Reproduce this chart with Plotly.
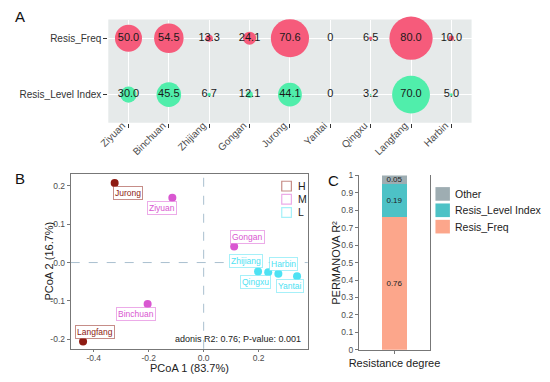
import plotly.graph_objects as go

# ---------------- data ----------------
sites = ["Ziyuan", "Binchuan", "Zhijiang", "Gongan", "Jurong", "Yantai", "Qingxu", "Langfang", "Harbin"]
resis_freq = [50.0, 54.5, 13.3, 24.1, 70.6, 0, 6.5, 80.0, 10.0]
resis_level = [30.0, 45.5, 6.7, 12.1, 44.1, 0, 3.2, 70.0, 5.0]
row_labels = ["Resis_Level Index", "Resis_Freq"]

pcoa_sites = ["Jurong", "Langfang", "Ziyuan", "Binchuan", "Gongan", "Zhijiang", "Qingxu", "Harbin", "Yantai"]
pcoa1 = [-0.324, -0.439, -0.114, -0.204, 0.111, 0.198, 0.235, 0.272, 0.340]
pcoa2 = [0.208, -0.206, 0.169, -0.108, 0.042, -0.023, -0.025, -0.029, -0.036]
pcoa_group = ["H", "H", "M", "M", "M", "L", "L", "L", "L"]
group_levels = ["H", "M", "L"]
pcoa1_ticks = [-0.4, -0.2, 0.0, 0.2]
pcoa1_ticktext = ["-0.4", "-0.2", "0.0", "0.2"]
pcoa2_ticks = [-0.2, -0.1, 0.0, 0.1, 0.2]
pcoa2_ticktext = ["-0.2", "-0.1", "0.0", "0.1", "0.2"]

perm_factors = ["Resis_Freq", "Resis_Level Index", "Other"]
perm_r2 = [0.76, 0.19, 0.05]
perm_cat = ["Resistance degree"]

# ---------------- styles ----------------
FONT = "Liberation Sans, Arial, sans-serif"
red = "#F65B7B"
green = "#50EEAB"
panelA_bg = "#E6EAEA"
group_colors = {"H": "#8E1B12", "M": "#D957D1", "L": "#4EE2F3"}
group_faded = {"H": "rgba(142,27,18,0.5)", "M": "rgba(217,87,209,0.5)", "L": "rgba(78,226,243,0.5)"}
perm_colors = {"Resis_Freq": "#FCA68B", "Resis_Level Index": "#4DC2C6", "Other": "#9EADB2"}
# label offsets (px) for panel B labels
label_off = {"Jurong": (13, -10), "Ziyuan": (-10, -10), "Gongan": (13, 9), "Binchuan": (-12, -10),
             "Langfang": (12, 9), "Zhijiang": (-12, 10), "Harbin": (5, 10), "Qingxu": (-13, -10),
             "Yantai": (-7, -10)}

W, H = 550, 382
def px(x): return x / W
def py(y): return 1 - y / H

fig = go.Figure()

# ---------------- Panel A ----------------
def fmt(v):
    return "0" if v == 0 else f"{v:.1f}"

fig.add_shape(type="rect", xref="x domain", yref="y domain", x0=0, x1=1, y0=0, y1=1,
              fillcolor=panelA_bg, line=dict(width=0), layer="below")

sizeref = 1.85
for vals, col, row in [(resis_freq, red, "Resis_Freq"), (resis_level, green, "Resis_Level Index")]:
    fig.add_trace(go.Scatter(
        x=sites, y=[row] * len(sites), mode="markers+text",
        marker=dict(size=vals, sizemode="diameter", sizeref=sizeref, color=col, opacity=1,
                    line=dict(width=0)),
        text=[fmt(v) for v in vals], textposition="middle center",
        textfont=dict(family=FONT, size=11, color="#1a1a1a"),
        xaxis="x", yaxis="y", showlegend=False, cliponaxis=False, hoverinfo="skip"))

# ---------------- Panel B ----------------
for g in group_levels:
    idx = [i for i, gg in enumerate(pcoa_group) if gg == g]
    fig.add_trace(go.Scatter(
        x=[pcoa1[i] for i in idx], y=[pcoa2[i] for i in idx], mode="markers",
        marker=dict(size=8, color=group_colors[g], opacity=1),
        xaxis="x2", yaxis="y2", showlegend=False, cliponaxis=False, hoverinfo="skip"))

for s, x, y, g in zip(pcoa_sites, pcoa1, pcoa2, pcoa_group):
    dx, dy = label_off[s]
    fig.add_annotation(x=x, y=y, xref="x2", yref="y2", text=s, showarrow=False,
                       xshift=dx, yshift=dy,
                       font=dict(family=FONT, size=8.5, color=group_colors[g]),
                       bgcolor="white", bordercolor=group_faded[g], borderwidth=1, borderpad=1)

fig.add_shape(type="line", xref="x2", yref="y2 domain", x0=0, x1=0, y0=0, y1=1,
              line=dict(color="#A9BFCF", width=1, dash="dash"), layer="below")
fig.add_shape(type="line", xref="x2 domain", yref="y2", x0=0, x1=1, y0=0, y1=0,
              line=dict(color="#A9BFCF", width=1, dash="dash"), layer="below")
fig.add_annotation(xref="x2 domain", yref="y2 domain", x=0.98, y=0.055, xanchor="right", yanchor="middle",
                   text="adonis R2: 0.76; P-value: 0.001", showarrow=False,
                   font=dict(family=FONT, size=9, color="#222"))

# legend for panel B (key boxes + letters)
legB_x, legB_y0, legB_dy = 287, 186, 13.5
for i, g in enumerate(group_levels):
    cy = legB_y0 + i * legB_dy
    fig.add_shape(type="rect", xref="paper", yref="paper",
                  x0=px(legB_x - 5), x1=px(legB_x + 5), y0=py(cy + 5), y1=py(cy - 5),
                  line=dict(color=group_faded[g], width=1.2), fillcolor="white")
    fig.add_annotation(xref="paper", yref="paper", x=px(legB_x + 10), y=py(cy), text=g, showarrow=False,
                       xanchor="left", yanchor="middle", font=dict(family=FONT, size=10.5, color="#222"))

# ---------------- Panel C ----------------
for f, v in zip(perm_factors, perm_r2):
    fig.add_trace(go.Bar(
        x=perm_cat, y=[v], name=f, marker=dict(color=perm_colors[f], line=dict(width=0)),
        width=0.35, text=[f"{v:.2f}"], textposition="inside", insidetextanchor="middle",
        constraintext="none", textfont=dict(family=FONT, size=8, color="#222"),
        xaxis="x3", yaxis="y3", showlegend=False, hoverinfo="skip", cliponaxis=False))

# legend for panel C
legC_x, legC_y0, legC_dy = 449, 194, 16.8
for i, f in enumerate(reversed(perm_factors)):
    cy = legC_y0 + i * legC_dy
    fig.add_shape(type="rect", xref="paper", yref="paper",
                  x0=px(legC_x - 7.5), x1=px(legC_x + 7.5), y0=py(cy + 7), y1=py(cy - 7),
                  line=dict(width=0), fillcolor=perm_colors[f])
    fig.add_annotation(xref="paper", yref="paper", x=px(legC_x + 11), y=py(cy), text=f, showarrow=False,
                       xanchor="left", yanchor="middle", font=dict(family=FONT, size=10.5, color="#222"))

# axis titles (placed as text)
title_font = dict(family=FONT, size=11, color="#222")
fig.add_annotation(xref="paper", yref="paper", x=px(186), y=py(373), text="PCoA 1 (83.7%)", showarrow=False,
                   xanchor="center", yanchor="middle", font=title_font)
fig.add_annotation(xref="paper", yref="paper", x=px(41), y=py(263), text="PCoA 2 (16.7%)", showarrow=False,
                   xanchor="center", yanchor="middle", textangle=-90, font=title_font)
fig.add_annotation(xref="paper", yref="paper", x=px(338), y=py(265), text="PERMANOVA R²", showarrow=False,
                   xanchor="center", yanchor="middle", textangle=-90, font=title_font)

# ---------------- layout ----------------
tickfont = dict(family=FONT, size=8.5, color="#4D4D4D")
fig.update_layout(
    width=W, height=H, margin=dict(l=0, r=0, t=0, b=0),
    paper_bgcolor="white", plot_bgcolor="white",
    font=dict(family=FONT, color="#222"),
    barmode="stack", showlegend=False,
    xaxis=dict(domain=[px(102), px(479)], anchor="y", type="category", categoryarray=sites,
               range=[-0.5, 8.5], showgrid=True, gridcolor="white", gridwidth=1, zeroline=False,
               ticks="outside", ticklen=4, tickcolor="#333", tickangle=-45,
               ticklabelstandoff=-12, ticklabelshift=-6,
               tickfont=dict(family=FONT, size=10, color="#4D4D4D"), showline=False),
    yaxis=dict(domain=[py(121), py(15)], anchor="x", type="category", categoryarray=row_labels,
               range=[-0.5, 1.33], showgrid=True, gridcolor="white", gridwidth=1, zeroline=False,
               ticks="outside", ticklen=4, tickcolor="#333",
               tickfont=dict(family=FONT, size=10, color="#333"), showline=False),
    xaxis2=dict(domain=[px(63), px(309)], anchor="y2", range=[-0.484, 0.379],
                tickvals=pcoa1_ticks, ticktext=pcoa1_ticktext, showgrid=False, zeroline=False,
                showline=True, mirror=True, linecolor="#777", linewidth=1,
                ticks="outside", ticklen=2, tickcolor="#777", tickfont=tickfont, ticklabelstandoff=-1),
    yaxis2=dict(domain=[py(353), py(174)], anchor="x2", range=[-0.225, 0.23],
                tickvals=pcoa2_ticks, ticktext=pcoa2_ticktext, showgrid=False, zeroline=False,
                showline=True, mirror=True, linecolor="#777", linewidth=1,
                ticks="outside", ticklen=3, tickcolor="#777", tickfont=tickfont),
    xaxis3=dict(domain=[px(362), px(436)], anchor="y3", type="category", range=[-0.5, 0.5],
                showgrid=False, zeroline=False, showline=True, linecolor="#777", linewidth=1,
                ticks="outside", ticklen=3, tickcolor="#777",
                tickfont=dict(family=FONT, size=11, color="#222")),
    yaxis3=dict(domain=[py(354), py(175)], anchor="x3", range=[0, 1], dtick=0.1,
                showgrid=False, zeroline=False, showline=True, mirror=True, linecolor="#777", linewidth=1,
                ticks="outside", ticklen=3, tickcolor="#777", tickfont=tickfont),
)

# panel letters
for letter, x, y in [("A", 10, 12), ("B", 10, 178), ("C", 336, 180)]:
    fig.add_annotation(xref="paper", yref="paper", x=px(x), y=py(y), text=letter, showarrow=False,
                       xanchor="center", yanchor="middle", font=dict(family=FONT, size=15, color="#111"))

fig.write_html("out.html", config={"displayModeBar": False},
               post_script="document.body.style.margin='0';document.body.style.overflow='hidden';")
